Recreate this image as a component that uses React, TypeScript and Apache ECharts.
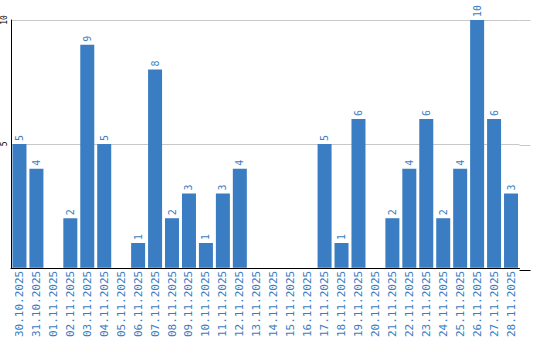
import React, { useEffect, useRef } from "react";
import * as echarts from "echarts";

const categories = [
  "30.10.2025", "31.10.2025", "01.11.2025", "02.11.2025", "03.11.2025",
  "04.11.2025", "05.11.2025", "06.11.2025", "07.11.2025", "08.11.2025",
  "09.11.2025", "10.11.2025", "11.11.2025", "12.11.2025", "13.11.2025",
  "14.11.2025", "15.11.2025", "16.11.2025", "17.11.2025", "18.11.2025",
  "19.11.2025", "20.11.2025", "21.11.2025", "22.11.2025", "23.11.2025",
  "24.11.2025", "25.11.2025", "26.11.2025", "27.11.2025", "28.11.2025",
];
const values = [5, 4, 0, 2, 9, 5, 0, 1, 8, 2, 3, 1, 3, 4, 0, 0, 0, 0, 5, 1, 6, 0, 2, 4, 6, 2, 4, 10, 6, 3];
const yMin = 0;
const yMax = 10;
const yInterval = 5;

const BLUE = "#3a7dc2";
const MONO = "DejaVu Sans Mono, monospace";

export default function App() {
  const ref = useRef<HTMLDivElement>(null);
  useEffect(() => {
    if (!ref.current) return;
    const chart = echarts.init(ref.current, null, { renderer: "svg" });
    chart.setOption({
      animation: false,
      grid: { left: 10, right: 20.5, top: 20, bottom: 70, containLabel: false },
      xAxis: {
        type: "category",
        data: categories,
        axisTick: { show: false },
        axisLine: { show: true, lineStyle: { color: "#000", width: 1 } },
        axisLabel: {
          interval: 0,
          rotate: 90,
          color: BLUE,
          fontFamily: MONO,
          fontSize: 11,
          margin: 3,
        },
        splitLine: { show: false },
      },
      yAxis: {
        type: "value",
        min: yMin,
        max: yMax,
        interval: yInterval,
        axisLine: { show: true, lineStyle: { color: "#000", width: 1 } },
        axisTick: { show: false },
        axisLabel: {
          rotate: 90,
          align: "center",
          verticalAlign: "bottom",
          color: "#000",
          fontFamily: MONO,
          fontSize: 8,
          margin: 3,
          formatter: (v: number) => (v === 0 ? "" : String(v)),
        },
        splitLine: { show: true, lineStyle: { color: "#c8c8c8", width: 1 } },
      },
      graphic: [
        { type: "line", shape: { x1: 519.5, y1: 270.5, x2: 530.5, y2: 270.5 }, style: { stroke: "#000", lineWidth: 1 }, z: 10 },
        { type: "line", shape: { x1: 519.5, y1: 20.5, x2: 530.5, y2: 20.5 }, style: { stroke: "#c8c8c8", lineWidth: 1 } },
        { type: "line", shape: { x1: 519.5, y1: 145.5, x2: 530.5, y2: 145.5 }, style: { stroke: "#c8c8c8", lineWidth: 1 } },
      ],
      series: [
        {
          type: "bar",
          data: values,
          barWidth: 14,
          itemStyle: { color: BLUE },
          label: {
            show: true,
            position: "top",
            rotate: 90,
            align: "left",
            verticalAlign: "middle",
            distance: 3,
            color: BLUE,
            fontFamily: MONO,
            fontSize: 10,
            formatter: (p: any) => (p.value === 0 ? "" : String(p.value)),
          },
        },
      ],
    });
    return () => chart.dispose();
  }, []);
  return (
    <div
      ref={ref}
      style={{ position: "absolute", left: 0, top: 0, width: 540, height: 340, background: "#fff" }}
    />
  );
}
